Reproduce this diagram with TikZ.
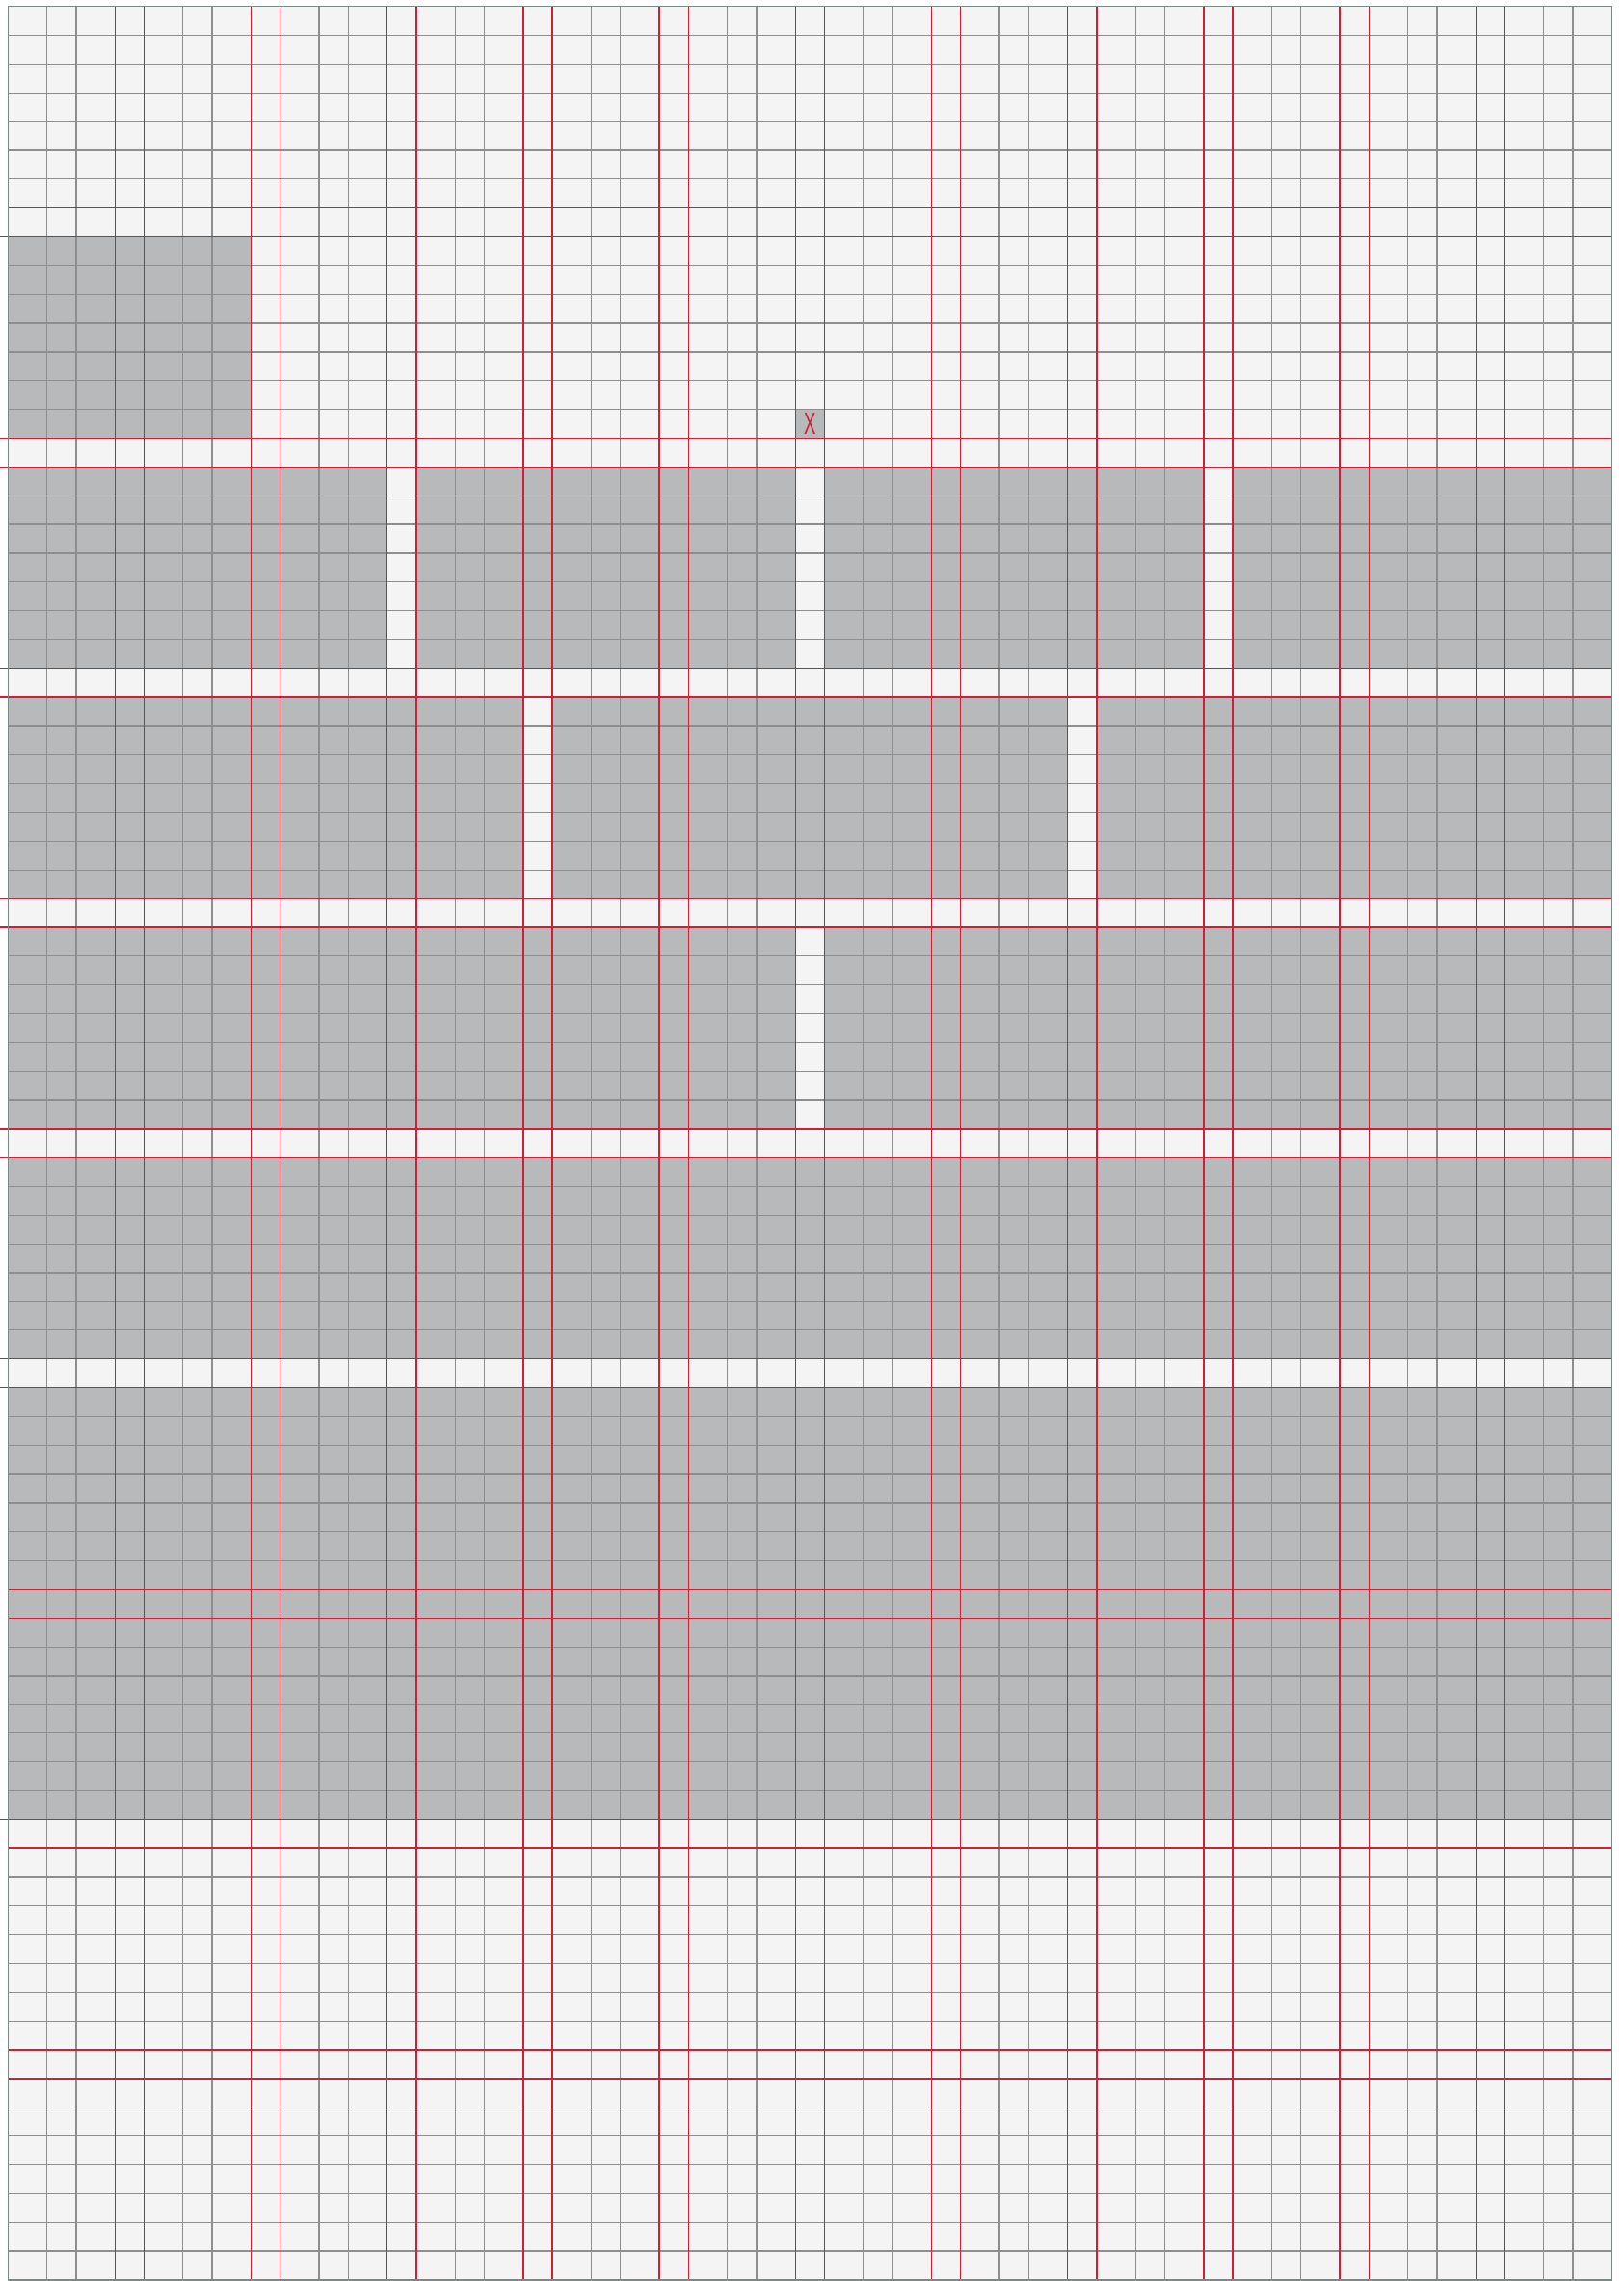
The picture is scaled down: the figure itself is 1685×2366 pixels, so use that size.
\documentclass[tikz,border=0pt]{standalone}
\usepackage{fontspec}
\setsansfont{Liberation Sans}
\usetikzlibrary{positioning}

\definecolor{paper}{HTML}{F4F4F4}
\definecolor{field}{HTML}{B8B9BB}
\definecolor{rule}{HTML}{8E8E8E}
\definecolor{guide}{HTML}{CC2036}
\definecolor{frame}{HTML}{7D8785}

% grid positions, column index 0..47 and row index 0..79
\newcommand{\colX}[1]{8.3+int((#1+1)/2)*40.3+int((#1)/2)*30.3}
\newcommand{\rowY}[1]{6.7+(#1)*29.85}

\begin{document}
\begin{tikzpicture}[x=1pt, y=-1pt,
    field/.style={fill=field},
    baseline/.style={draw=rule, line width=1.3pt},
    guideline/.style={draw=guide, line width=1.4pt},
    border/.style={draw=frame, line width=1.6pt},
    crossmark/.style={text=guide, font=\sffamily\fontsize{32}{32}\selectfont, inner sep=0pt}]

    \useasboundingbox (0,0) rectangle (1685,2366);
    \fill[white] (0,0) rectangle (1685,2366);

    % Background
    \fill[paper] ({\colX{0}},{\rowY{0}}) rectangle ({\colX{47}},{\rowY{79}});

    % Shaded fields
    \foreach \ca/\cb/\ra/\rb in {0/7/8/15, 23/24/14/15,
        0/11/16/23, 12/23/16/23, 24/35/16/23, 36/47/16/23,
        0/15/24/31, 16/31/24/31, 32/47/24/31,
        0/23/32/39, 24/47/32/39,
        0/47/40/47, 0/47/48/63}
      \fill[field] ({\colX{\ca}},{\rowY{\ra}}) rectangle ({\colX{\cb}},{\rowY{\rb}});

    % Baseline grid
    \foreach \c in {1,...,46}
      \path[baseline] ({\colX{\c}},{\rowY{0}}) -- ({\colX{\c}},{\rowY{79}});
    \foreach \r in {1,...,78}
      \path[baseline] ({\colX{0}},{\rowY{\r}}) -- ({\colX{47}},{\rowY{\r}});

    % Column guides
    \foreach \k in {0,...,10}
      \foreach \d in {3,4}
        \path[guideline] ({\colX{4*\k+\d}},{\rowY{0}}) -- ({\colX{4*\k+\d}},{\rowY{79}});

    % Row guides
    \foreach \k in {0,...,8}
      \foreach \d in {7,8}
        \path[guideline] ({\colX{0}},{\rowY{8*\k+\d}}) -- ({\colX{47}},{\rowY{8*\k+\d}});

    % Ticks in the margin
    \foreach \r in {8,15,16,23,24,31,32,39,40,47,48,63}
      \path[guideline] (0,{\rowY{\r}}) -- ({\colX{0}},{\rowY{\r}});

    % Frame
    \path[border] ({\colX{0}},{\rowY{0}}) rectangle ({\colX{47}},{\rowY{79}});

    % Marker
    \node[crossmark] (cross) at ({(\colX{23}+\colX{24})/2},{\rowY{14.5}}) {\scalebox{0.58}[1]{X}};

\end{tikzpicture}
\end{document}
